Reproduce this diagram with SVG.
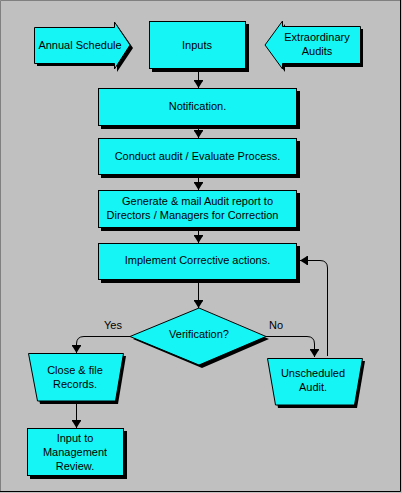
<svg xmlns="http://www.w3.org/2000/svg" width="402" height="493" viewBox="0 0 402 493">
<defs>
<style>
.n{fill:#16F5F5;stroke:#000;stroke-width:1}
.s{fill:#000}
.t{font-family:"Liberation Sans",Arial,sans-serif;font-size:11px;fill:#000;text-anchor:middle}
.c{fill:none;stroke:#000;stroke-width:1}
</style>
<marker id="ah" markerWidth="10" markerHeight="10" refX="8" refY="5" orient="auto" markerUnits="userSpaceOnUse">
<path d="M0,0.5 L1.5,0.5 L1.5,1 L8,5 L1.5,9 L1.5,9.5 L0,9.5 Z" fill="#000"/>
</marker>
</defs>
<rect x="0" y="0" width="402" height="493" fill="#C0C0C0"/>
<path d="M0.5,492 V0.5 H401" fill="none" stroke="#808080"/>
<path d="M0,491.5 H400.5 V0" fill="none" stroke="#000"/>

<g id="connectors">
<line class="c" x1="198.5" y1="69" x2="198.5" y2="88" marker-end="url(#ah)"/>
<line class="c" x1="198.5" y1="126" x2="198.5" y2="138" marker-end="url(#ah)"/>
<line class="c" x1="198.5" y1="175" x2="198.5" y2="190" marker-end="url(#ah)"/>
<line class="c" x1="198.5" y1="228" x2="198.5" y2="243" marker-end="url(#ah)"/>
<line class="c" x1="198.5" y1="280" x2="198.5" y2="308" marker-end="url(#ah)"/>
<path class="c" d="M327.5,356 V268 Q327.5,260.5 320,260.5 H300" marker-end="url(#ah)"/>
<path class="c" d="M130,336.5 H84 Q76.5,336.5 76.5,344 V353" marker-end="url(#ah)"/>
<path class="c" d="M266,336.5 H307 Q314.5,336.5 314.5,344 V357" marker-end="url(#ah)"/>
<line class="c" x1="76.5" y1="401" x2="76.5" y2="428" marker-end="url(#ah)"/>
<text class="t" x="113" y="329">Yes</text>
<text class="t" x="276" y="329">No</text>
</g>

<g id="annual">
<polygon class="s" points="37,30 117,30 117,25 133,48 117,72 117,66 37,66"/>
<polygon class="n" points="34.5,27.5 114.5,27.5 114.5,22 130,45 114.5,69 114.5,63.5 34.5,63.5"/>
<text class="t" x="80" y="49">Annual Schedule</text>
</g>

<g id="inputs">
<rect class="s" x="152" y="24" width="97" height="48"/>
<rect class="n" x="149.5" y="21.5" width="96" height="47"/>
<text class="t" x="197" y="49">Inputs</text>
</g>

<g id="extraordinary">
<polygon class="s" points="363,29 285,29 285,24 268,48 285,72 285,67 363,67"/>
<polygon class="n" points="360.5,26.5 282.5,26.5 282.5,21 265,45 282.5,69 282.5,63.5 360.5,63.5"/>
<text class="t" x="317" y="41">Extraordinary</text>
<text class="t" x="317" y="55">Audits</text>
</g>

<g id="notification">
<rect class="s" x="101" y="91" width="199" height="38"/>
<rect class="n" x="98.5" y="88.5" width="198" height="37"/>
<text class="t" x="197.5" y="110">Notification.</text>
</g>

<g id="conduct">
<rect class="s" x="101" y="141" width="199" height="37"/>
<rect class="n" x="98.5" y="138.5" width="198" height="36"/>
<text class="t" x="197.5" y="160">Conduct audit / Evaluate Process.</text>
</g>

<g id="generate">
<rect class="s" x="101" y="193" width="199" height="38"/>
<rect class="n" x="98.5" y="190.5" width="198" height="37"/>
<text class="t" x="197.5" y="205">Generate &amp; mail Audit report to</text>
<text class="t" x="192.5" y="219">Directors / Managers for Correction</text>
</g>

<g id="implement">
<rect class="s" x="101" y="246" width="199" height="37"/>
<rect class="n" x="98.5" y="243.5" width="198" height="36"/>
<text class="t" x="197.5" y="264">Implement Corrective actions.</text>
</g>

<g id="verification">
<polygon class="s" points="133,339 202,311 269,339 202,368"/>
<polygon class="n" points="130,336.5 199,308 266,336.5 199,365"/>
<text class="t" x="199" y="338">Verification?</text>
</g>

<g id="close">
<polygon class="s" points="31,356 126,356 118,404 40,404"/>
<polygon class="n" points="28.5,353.5 123.5,353.5 115.5,401 37.5,401"/>
<text class="t" x="75" y="374">Close &amp; file</text>
<text class="t" x="75" y="388">Records.</text>
</g>

<g id="unscheduled">
<polygon class="s" points="270,361 365,361 357,408 278,408"/>
<polygon class="n" points="267.5,358.5 362.5,358.5 354.5,405 275.5,405"/>
<text class="t" x="313" y="377">Unscheduled</text>
<text class="t" x="313" y="391">Audit.</text>
</g>

<g id="management">
<rect class="s" x="30" y="431" width="97" height="48"/>
<rect class="n" x="27.5" y="428.5" width="96" height="47"/>
<text class="t" x="75" y="442">Input to</text>
<text class="t" x="75" y="456">Management</text>
<text class="t" x="75" y="470">Review.</text>
</g>
</svg>
